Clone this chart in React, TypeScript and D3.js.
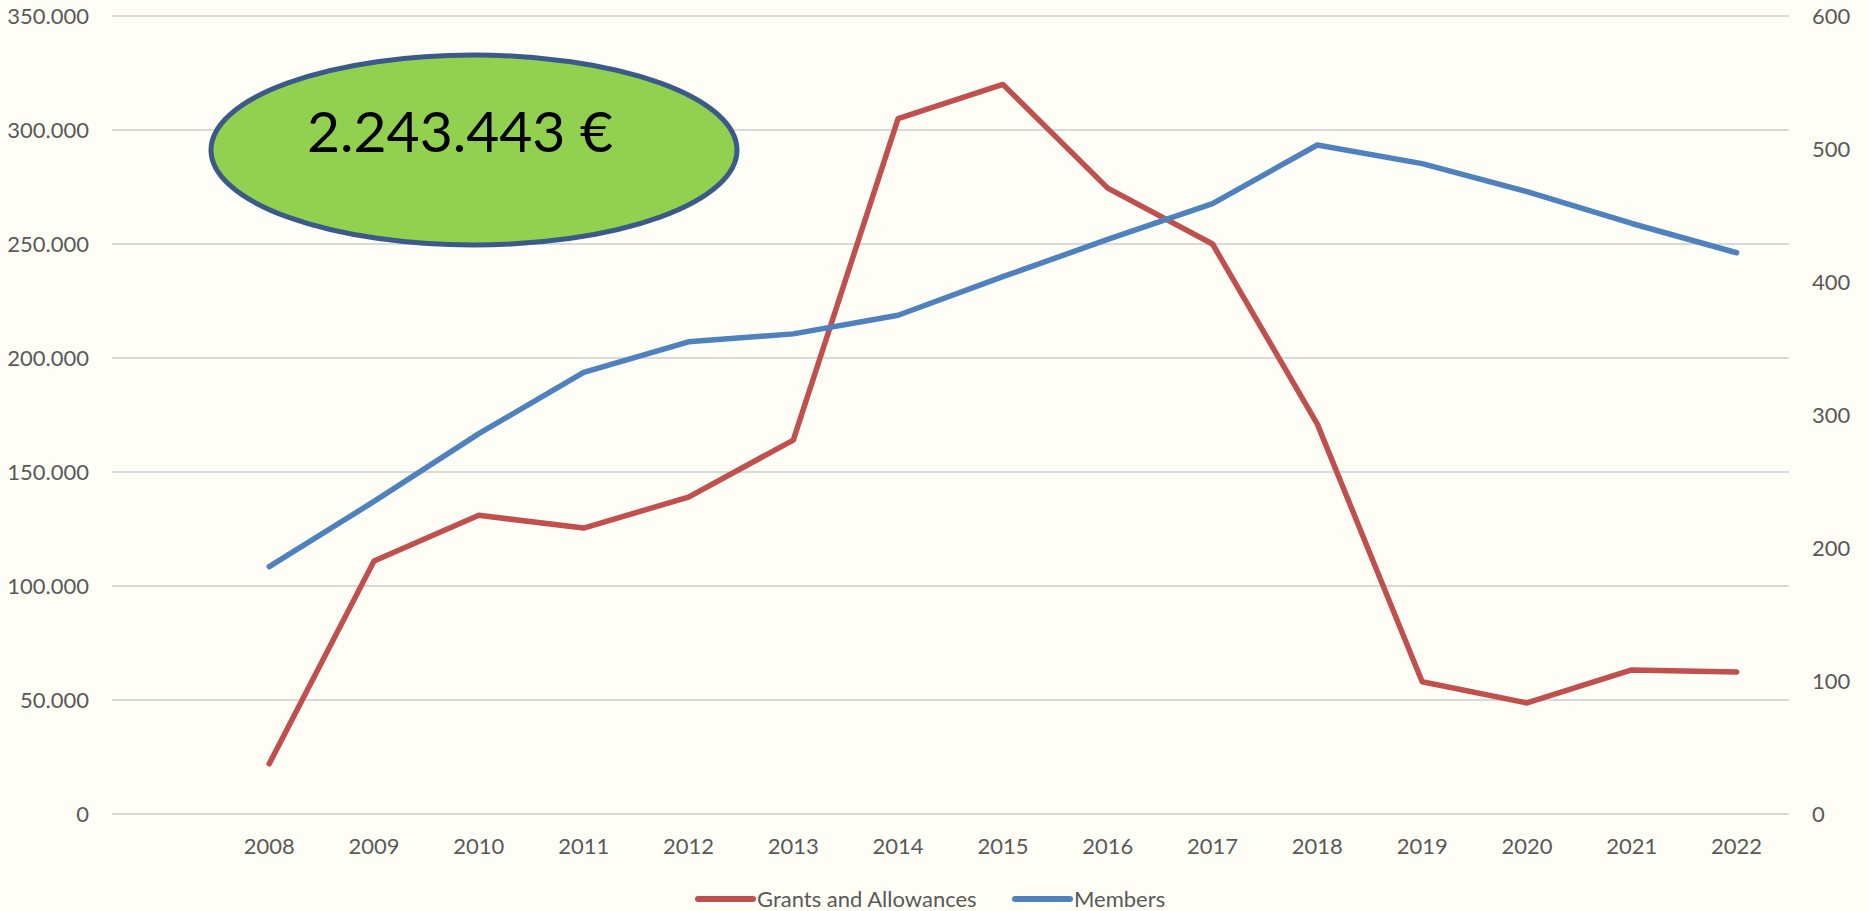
import React from "react";
import * as d3 from "d3";

const width = 1869;
const height = 911;
const margin = { top: 16, right: 80, bottom: 97, left: 112 };
const red = "#c0504d";
const blue = "#4f81bd";
const grid = "#d9d9d9";
const textColor = "#595959";
const font = "Lato, 'Open Sans', sans-serif";

// first category is an empty slot in the source sheet
const categories = ["", "2008", "2009", "2010", "2011", "2012", "2013", "2014", "2015", "2016", "2017", "2018", "2019", "2020", "2021", "2022"];
const years = categories.slice(1);
const grants = [22000, 111000, 131000, 125400, 139000, 164000, 305000, 320000, 274500, 250000, 171000, 58000, 48700, 63200, 62300];
const members = [186, 235, 286, 332, 355, 361, 375, 404, 432, 459, 503, 489, 468, 444, 422];
const leftTicks = [0, 50000, 100000, 150000, 200000, 250000, 300000, 350000];
const rightTicks = [0, 100, 200, 300, 400, 500, 600];
const total = "2.243.443 €";

const locale = d3.formatLocale({ decimal: ",", thousands: ".", grouping: [3], currency: ["", " €"] });
const fmt = locale.format(",");

export default function App() {
  const x = d3.scaleBand().domain(categories).range([margin.left, width - margin.right]);
  const xc = (c: string) => (x(c) as number) + x.bandwidth() / 2;
  const yLeft = d3.scaleLinear().domain([0, 350000]).range([height - margin.bottom, margin.top]);
  const yRight = d3.scaleLinear().domain([0, 600]).range([height - margin.bottom, margin.top]);

  const grantsLine = d3.line<number>().x((_, i) => xc(years[i])).y(d => yLeft(d));
  const membersLine = d3.line<number>().x((_, i) => xc(years[i])).y(d => yRight(d));

  const legendY = 899;

  return (
    <svg
      width={width}
      height={height}
      style={{ position: "absolute", left: 0, top: 0, display: "block", background: "#fffef6" }}
    >
      <rect width={width} height={height} fill="#fffef6" />
      {/* gridlines */}
      <g>
        {leftTicks.map(t => (
          <line key={t} x1={margin.left} x2={width - margin.right} y1={yLeft(t)} y2={yLeft(t)} stroke={grid} strokeWidth={2} />
        ))}
      </g>
      {/* left axis */}
      <g fontFamily={font} fontSize={22} fill={textColor} textAnchor="end">
        {leftTicks.map(t => (
          <text key={t} x={margin.left - 23} y={yLeft(t)} dy="0.35em">{fmt(t)}</text>
        ))}
      </g>
      {/* right axis */}
      <g fontFamily={font} fontSize={22} fill={textColor} textAnchor="start">
        {rightTicks.map(t => (
          <text key={t} x={width - margin.right + 23} y={yRight(t)} dy="0.35em">{t}</text>
        ))}
      </g>
      {/* x axis */}
      <g fontFamily={font} fontSize={22} fill={textColor} textAnchor="middle">
        {years.map(c => (
          <text key={c} x={xc(c)} y={height - margin.bottom + 32} dy="0.35em">{c}</text>
        ))}
      </g>
      {/* series */}
      <path d={grantsLine(grants) || ""} fill="none" stroke={red} strokeWidth={5.5} strokeLinejoin="round" strokeLinecap="round" />
      <path d={membersLine(members) || ""} fill="none" stroke={blue} strokeWidth={5.5} strokeLinejoin="round" strokeLinecap="round" />
      {/* total bubble */}
      <ellipse cx={474} cy={150} rx={263} ry={95} fill="#92d050" stroke="#3b5a8a" strokeWidth={5} />
      <text x={460} y={152} fontFamily={font} fontSize={57} fill="#000" textAnchor="middle">{total}</text>
      {/* legend */}
      <g fontFamily={font} fontSize={22} fill={textColor}>
        <line x1={698} x2={753} y1={legendY} y2={legendY} stroke={red} strokeWidth={6} strokeLinecap="round" />
        <text x={757} y={legendY} dy="0.35em">Grants and Allowances</text>
        <line x1={1015} x2={1070} y1={legendY} y2={legendY} stroke={blue} strokeWidth={6} strokeLinecap="round" />
        <text x={1074} y={legendY} dy="0.35em">Members</text>
      </g>
    </svg>
  );
}
